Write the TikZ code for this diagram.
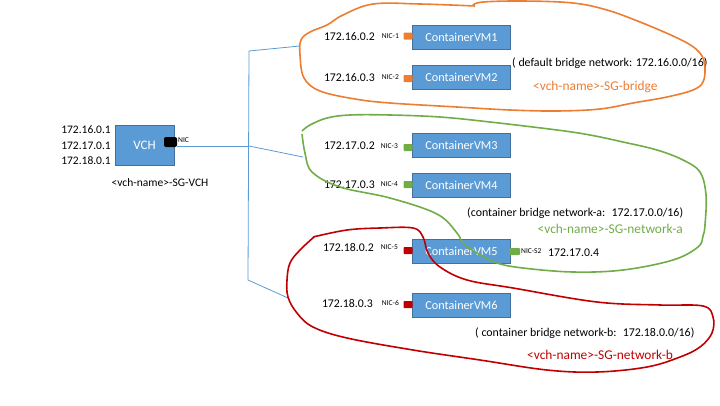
\documentclass[tikz,border=0pt]{standalone}
\usepackage{fontspec}
\setmainfont{Carlito}
\definecolor{vmfill}{HTML}{5B9BD5}
\definecolor{vmedge}{HTML}{41719C}
\definecolor{sgorange}{HTML}{ED7D31}
\definecolor{sggreen}{HTML}{70AD47}
\definecolor{sgred}{HTML}{C00000}
\tikzset{
  vmbox/.style={draw=vmedge, line width=0.8pt, fill=vmfill, text=white, minimum width=98pt, minimum height=24pt, inner sep=0pt, font=\fontsize{12.2}{14}\selectfont},
  nicsq/.style={minimum width=9pt, minimum height=7pt, inner sep=0pt, rounded corners=0.8pt},
  niclbl/.style={inner sep=0pt, font=\fontsize{7.5}{9}\selectfont},
  iplbl/.style={inner sep=0pt, font=\fontsize{11.8}{13}\selectfont},
  notelbl/.style={inner sep=0pt, font=\fontsize{11.9}{13}\selectfont},
  sglbl/.style={inner sep=0pt, font=\fontsize{13.4}{15}\selectfont},
  link/.style={draw=vmfill, line width=0.8pt},
  sgloop/.style={line width=1.6pt, line join=round}
}
\begin{document}
\begin{tikzpicture}[x=1pt,y=-1pt]
\useasboundingbox (0,0) rectangle (720,405);

\node[vmbox, minimum width=59pt, minimum height=40pt, font=\fontsize{13}{15}\selectfont] (vch) at (144.5,145) {VCH};
\node[nicsq, fill=black, minimum width=13pt, minimum height=10pt, rounded corners=2pt] (vchnic) at (170.5,142) {};
\node[niclbl, anchor=west] (vchniclbl) at (178,140) {NIC};
\node[iplbl, anchor=east, font=\fontsize{11.5}{13}\selectfont] (vchip1) at (111,130) {172.16.0.1};
\node[iplbl, anchor=east, font=\fontsize{11.5}{13}\selectfont] (vchip2) at (111,146) {172.17.0.1};
\node[iplbl, anchor=east, font=\fontsize{11.5}{13}\selectfont] (vchip3) at (111,161) {172.18.0.1};
\node[notelbl, font=\fontsize{11.5}{13}\selectfont] (vchsg) at (160,183) {<vch-name>-SG-VCH};

\node[vmbox] (vm1) at (461.5,37) {ContainerVM1};
\node[vmbox] (vm2) at (461.5,77.5) {ContainerVM2};
\node[vmbox] (vm3) at (461.5,145) {ContainerVM3};
\node[vmbox] (vm4) at (461.5,185) {ContainerVM4};
\node[vmbox] (vm5) at (461.5,251) {ContainerVM5};
\node[vmbox] (vm6) at (461.5,305) {ContainerVM6};

\node[nicsq, fill=sgorange] (nic1) at (408,36) {};
\node[nicsq, fill=sgorange] (nic2) at (408,78.5) {};
\node[nicsq, fill=sggreen] (nic3) at (408,147.5) {};
\node[nicsq, fill=sggreen] (nic4) at (408,184.5) {};
\node[nicsq, fill=sgred] (nic5) at (408,250.5) {};
\node[nicsq, fill=sgred] (nic6) at (408,304.5) {};
\node[nicsq, fill=sggreen, minimum width=11pt] (nics2) at (514.5,251.5) {};

\node[niclbl, anchor=east] (nic1lbl) at (399,36.5) {NIC-1};
\node[niclbl, anchor=east] (nic2lbl) at (399,77.5) {NIC-2};
\node[niclbl, anchor=east] (nic3lbl) at (398,146) {NIC-3};
\node[niclbl, anchor=east] (nic4lbl) at (398,184.5) {NIC-4};
\node[niclbl, anchor=east] (nic5lbl) at (398,247.5) {NIC-5};
\node[niclbl, anchor=east] (nic6lbl) at (399,303) {NIC-6};
\node[niclbl, anchor=west] (nics2lbl) at (521,251) {NIC-S2};

\node[iplbl, anchor=east] (ip1) at (375,36.5) {172.16.0.2};
\node[iplbl, anchor=east] (ip2) at (375,77.5) {172.16.0.3};
\node[iplbl, anchor=east] (ip3) at (375,146) {172.17.0.2};
\node[iplbl, anchor=east] (ip4) at (375,185) {172.17.0.3};
\node[iplbl, anchor=east] (ip5) at (374,248) {172.18.0.2};
\node[iplbl, anchor=east] (ip6) at (373,304) {172.18.0.3};
\node[iplbl, anchor=west] (ips2) at (548,253) {172.17.0.4};

\node[notelbl, anchor=west] (bridgenote) at (512,63) {( default bridge network: 172.16.0.0/16)};
\node[sglbl, anchor=west, text=sgorange] (bridgesg) at (533,87) {<vch-name>-SG-bridge};
\node[notelbl, anchor=west] (netanote) at (467,213) {(container bridge network-a:~ 172.17.0.0/16)};
\node[sglbl, anchor=east, text=sggreen] (netasg) at (683,229) {<vch-name>-SG-network-a};
\node[notelbl, anchor=west] (netbnote) at (475,333) {( container bridge network-b:~ 172.18.0.0/16)};
\node[sglbl, anchor=west, text=sgred] (netbsg) at (527,355) {<vch-name>-SG-network-b};

\coordinate (bustop) at (249,51);
\coordinate (busmid) at (249,146);
\coordinate (busbot) at (248,280);
\coordinate (bridgein) at (300,46);
\coordinate (netain) at (303,157);
\coordinate (netbin) at (288,298);

\draw[link] (vchnic.east |- busmid) -- (busmid);
\draw[link] (bridgein) -- (bustop) -- (busbot) -- (netbin);
\draw[link] (busmid) -- (netain);

\draw[sgloop, sgorange] plot[smooth, tension=0.6] coordinates {(473,5) (483,2) (523,1) (573,3) (607,10) (640,22) (673,36) (692,46) (702,56) (705,68) (703,82) (693,90) (667,97) (633,103) (600,109) (557,111) (510,110) (457,107) (390,103) (355,99) (320,91) (304,78) (300,55) (301,40) (310,32) (327,25) (343,15) (373,4) (420,4) (475,6)};
\draw[sgloop, sggreen] plot[smooth, tension=0.6] coordinates {(302,131) (310,125) (327,118) (350,115) (390,115) (440,117) (490,122) (557,130) (590,135) (623,142) (657,150) (683,160) (700,172) (706,195) (705,225) (703,236) (698,247) (673,260) (623,270) (573,272) (523,268) (497,263) (477,253) (463,243) (457,233) (437,214) (390,198) (340,187) (312,172) (305,153) (302,134)};
\draw[sgloop, sgred] plot[smooth, tension=0.6] coordinates {(313,237) (347,230) (380,228) (413,228) (423,237) (428,253) (440,267) (467,280) (513,288) (597,302) (660,305) (703,306) (713,317) (712,333) (700,347) (680,357) (647,367) (597,372) (547,370) (480,360) (413,350) (347,338) (313,327) (297,313) (288,297) (287,280) (290,263) (300,250) (314,237)};
\end{tikzpicture}
\end{document}
